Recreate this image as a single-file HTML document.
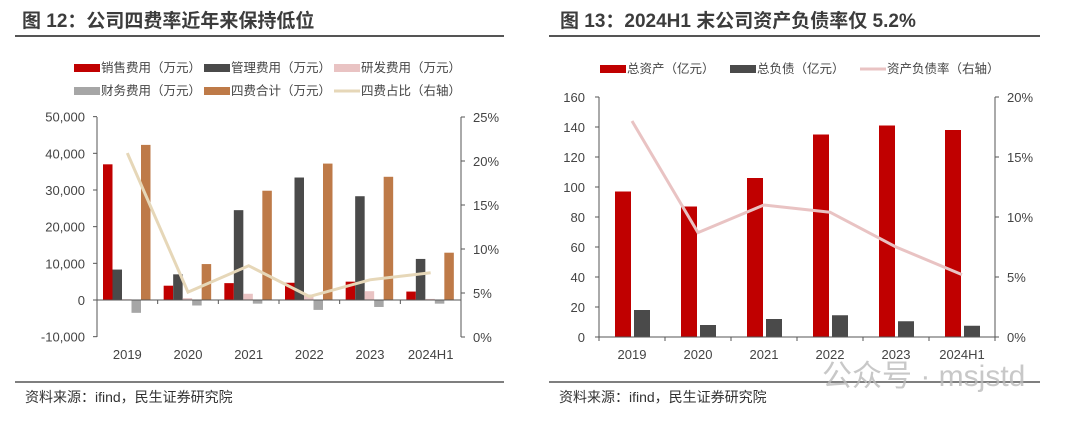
<!DOCTYPE html><html><head><meta charset="utf-8"><style>
body{margin:0;background:#fff;width:1077px;height:421px;overflow:hidden}
svg{font-family:"Liberation Sans","Noto Sans CJK SC",sans-serif}
</style></head><body>
<svg id="s" width="1077" height="421" xmlns="http://www.w3.org/2000/svg">
<text x="22" y="27" font-size="19" font-weight="bold" fill="#3c3c3c">图 12：公司四费率近年来保持低位</text>
<line x1="15" y1="36" x2="504" y2="36" stroke="#555" stroke-width="2"/>
<text x="560" y="27" font-size="19" font-weight="bold" fill="#3c3c3c">图 13：2024H1 末公司资产负债率仅 5.2%</text>
<line x1="549" y1="36" x2="1040" y2="36" stroke="#555" stroke-width="2"/>
<line x1="15" y1="382" x2="504" y2="382" stroke="#555" stroke-width="1.5"/>
<line x1="549" y1="382" x2="1040" y2="382" stroke="#555" stroke-width="1.5"/>
<text x="25" y="402" font-size="14" fill="#333">资料来源：ifind，民生证券研究院</text>
<text x="559" y="402" font-size="14" fill="#333">资料来源：ifind，民生证券研究院</text>
<g font-size="12.5" fill="#444">
<rect x="74" y="64" width="26" height="8" fill="#c00000"/><text x="101" y="72">销售费用（万元）</text>
<rect x="204" y="64" width="26" height="8" fill="#4a4a4a"/><text x="231" y="72">管理费用（万元）</text>
<rect x="334" y="64" width="26" height="8" fill="#e9c3c3"/><text x="361" y="72">研发费用（万元）</text>
<rect x="74" y="87" width="26" height="8" fill="#a6a6a6"/><text x="101" y="95">财务费用（万元）</text>
<rect x="204" y="87" width="26" height="8" fill="#be7a48"/><text x="231" y="95">四费合计（万元）</text>
<line x1="334" y1="91" x2="360" y2="91" stroke="#e6d7b8" stroke-width="3"/><text x="361" y="95">四费占比（右轴）</text>
<rect x="600" y="65" width="26" height="8" fill="#c00000"/><text x="627" y="73">总资产（亿元）</text>
<rect x="730" y="65" width="26" height="8" fill="#4a4a4a"/><text x="757" y="73">总负债（亿元）</text>
<line x1="860" y1="69" x2="886" y2="69" stroke="#e9c3c3" stroke-width="3"/><text x="887" y="73">资产负债率（右轴）</text>
</g>
<g id="L"></g><g id="R"></g>
<text x="822" y="386" font-size="30" fill="#bbb" opacity="0.8">公众号 · msjstd</text>
</svg>
<script>
var NS="http://www.w3.org/2000/svg";
function el(p,t,a,tx){var e=document.createElementNS(NS,t);for(var k in a)e.setAttribute(k,a[k]);if(tx!=null)e.textContent=tx;p.appendChild(e);return e;}
var cats=["2019","2020","2021","2022","2023","2024H1"];
// Left chart
var L=document.getElementById("L");
var x0=97,x1=461,yt=117,yb=337;
function ly(v){return 300-v*36.67/10000;}
function ry(p){return 337-p*8.8;}
var data=[[37000,3900,4600,4700,5000,2300],[8300,7000,24500,33400,28300,11200],[200,500,1700,1500,2400,300],[-3500,-1500,-1000,-2700,-1900,-1000],[42300,9800,29800,37200,33600,12900]];
var cols=["#c00000","#4a4a4a","#e9c3c3","#a6a6a6","#be7a48"];var offs=[6,15.5,25,34.5,44];
var cw=(x1-x0)/6;
for(var s=0;s<5;s++)for(var i=0;i<6;i++){var v=data[s][i],y=ly(v);el(L,"rect",{x:x0+i*cw+offs[s],y:Math.min(y,300),width:9.5,height:Math.abs(y-300),fill:cols[s]});}
el(L,"line",{x1:x0,y1:yt,x2:x0,y2:yb,stroke:"#555"});el(L,"line",{x1:x1,y1:yt,x2:x1,y2:yb,stroke:"#555"});
el(L,"line",{x1:x0,y1:300,x2:x1,y2:300,stroke:"#555"});
for(var v=-10000;v<=50000;v+=10000){var y=ly(v);el(L,"line",{x1:x0-4,y1:y,x2:x0,y2:y,stroke:"#555"});el(L,"text",{x:x0-12,y:y+5,"font-size":"13","text-anchor":"end",fill:"#444"},v==0?"0":v.toLocaleString("en-US"));}
for(var p=0;p<=25;p+=5){var y=ry(p);el(L,"line",{x1:x1,y1:y,x2:x1+4,y2:y,stroke:"#555"});el(L,"text",{x:x1+12,y:y+5,"font-size":"13",fill:"#444"},p+"%");}
for(var i=0;i<=6;i++)el(L,"line",{x1:x0+i*cw,y1:300,x2:x0+i*cw,y2:304,stroke:"#555"});
for(var i=0;i<6;i++)el(L,"text",{x:x0+(i+0.5)*cw,y:359,"font-size":"13","text-anchor":"middle",fill:"#444"},cats[i]);
var pc=[20.9,5.1,8.1,4.6,6.5,7.3],pts=pc.map(function(p,i){return (x0+(i+0.5)*cw)+","+ry(p);}).join(" ");
el(L,"polyline",{points:pts,fill:"none",stroke:"#e6d7b8","stroke-width":"3"});
// Right chart
var R=document.getElementById("R");
var a0=599,a1=995;cw=(a1-a0)/6;
function by(v){return 337-v*1.5;}function py(p){return 337-p*12;}
var ta=[97,87,106,135,141,138],td=[18,8,12,14.5,10.5,7.5],rt=[18,8.7,11,10.4,7.5,5.2];
for(var i=0;i<6;i++){var b=a0+i*cw;el(R,"rect",{x:b+16,y:by(ta[i]),width:16,height:ta[i]*1.5,fill:"#c00000"});el(R,"rect",{x:b+35,y:by(td[i]),width:16,height:td[i]*1.5,fill:"#4a4a4a"});}
el(R,"line",{x1:a0,y1:97,x2:a0,y2:340,stroke:"#555"});el(R,"line",{x1:a1,y1:97,x2:a1,y2:340,stroke:"#555"});
el(R,"line",{x1:a0,y1:337,x2:a1,y2:337,stroke:"#555"});
for(var v=0;v<=160;v+=20){var y=by(v);el(R,"line",{x1:a0-4,y1:y,x2:a0,y2:y,stroke:"#555"});el(R,"text",{x:a0-14,y:y+5,"font-size":"13","text-anchor":"end",fill:"#444"},v);}
for(var p=0;p<=20;p+=5){var y=py(p);el(R,"line",{x1:a1,y1:y,x2:a1+4,y2:y,stroke:"#555"});el(R,"text",{x:a1+12,y:y+5,"font-size":"13",fill:"#444"},p+"%");}
for(var i=0;i<=6;i++)el(R,"line",{x1:a0+i*cw,y1:337,x2:a0+i*cw,y2:341,stroke:"#555"});
for(var i=0;i<6;i++)el(R,"text",{x:a0+(i+0.5)*cw,y:359,"font-size":"13","text-anchor":"middle",fill:"#444"},cats[i]);
pts=rt.map(function(p,i){return (a0+(i+0.5)*cw)+","+py(p);}).join(" ");
el(R,"polyline",{points:pts,fill:"none",stroke:"#e9c3c3","stroke-width":"3"});
</script>
</body></html>
